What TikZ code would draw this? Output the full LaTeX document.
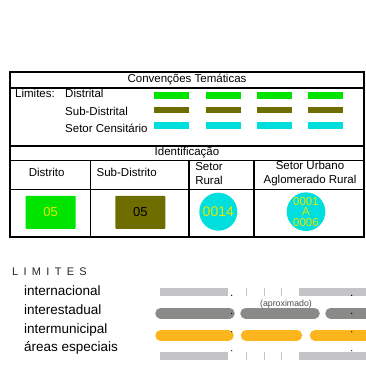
\documentclass[tikz,border=0pt]{standalone}
\usepackage{fontspec}
\setmainfont{Liberation Sans}
\usetikzlibrary{positioning}
\definecolor{distgreen}{HTML}{00E400}
\definecolor{subolive}{HTML}{6E6E00}
\definecolor{setorcyan}{HTML}{00DEDE}
\definecolor{numyellow}{HTML}{E8E800}
\definecolor{limlight}{HTML}{C4C4C8}
\definecolor{limdark}{HTML}{8A8B88}
\definecolor{limorange}{HTML}{FDB51D}
\begin{document}
\begin{tikzpicture}[x=1pt, y=-1pt,
    frame/.style={draw, line width=1.2pt},
    lbl/.style={font=\fontsize{11.5}{13.3}\selectfont, inner sep=0pt},
    big/.style={font=\fontsize{13.5}{15}\selectfont, inner sep=0pt},
    num/.style={font=\fontsize{13}{14}\selectfont, inner sep=0pt},
    tag/.style={minimum width=50pt, minimum height=33pt, inner sep=0pt, rounded corners=0.8pt},
    dashbar/.style={line width=6.5pt},
    limbar/.style={line width=7.5pt},
    roadbar/.style={line width=10.5pt, line cap=round},
    tick/.style={draw=limlight, line width=0.6pt},
    dot/.style={circle, fill=black, inner sep=0pt, minimum size=1.3pt}
]
\clip (0,0) rectangle (366,378);

% Convencoes Tematicas box
\draw[frame] (10,72) rectangle (364,146);
\draw[frame] (10,88) -- (364,88);
\node[lbl, anchor=base] (convtitle) at (187,82.7) {Convenções Temáticas};
\node[lbl, anchor=base west] (limites) at (15,97.7) {Limites:};
\node[lbl, anchor=base west] (distrital) at (65,97.7) {Distrital};
\node[lbl, anchor=base west] (subdistrital) at (65,115.3) {Sub-Distrital};
\node[lbl, anchor=base west] (censitario) at (65,132.7) {Setor Censitário};

% dashed limit samples
\foreach \x in {154,206,257,308} {
    \draw[dashbar, distgreen] (\x,95.7) -- ++(35,0);
    \draw[dashbar, subolive] (\x,110) -- ++(35,0);
    \draw[dashbar, setorcyan] (\x,125.4) -- ++(35,0);
}

% Identificacao box
\draw[frame] (10,146) rectangle (364,237);
\draw[frame] (10,160.7) -- (364,160.7);
\draw[frame] (10,189.3) -- (364,189.3);
\foreach \x in {90.7,189,254} {
    \draw[frame] (\x,160.7) -- (\x,237);
}
\node[lbl, anchor=base] (ident) at (187,155.7) {Identificação};
\node[lbl, anchor=base] (hdistrito) at (46.7,176.7) {Distrito};
\node[lbl, anchor=base] (hsub) at (126.7,176.7) {Sub-Distrito};
\node[lbl, align=center] (hrural) at (209,173.5) {Setor\\Rural};
\node[lbl, align=center] (hurbano) at (310,173.5) {Setor Urbano\\Aglomerado Rural};

% identification symbols
\node[tag, fill=distgreen, text=numyellow, num] (distrito) at (50.7,212.3) {05};
\node[tag, fill=subolive, text=black, num] (subdistrito) at (140.3,212.3) {05};
\node[circle, fill=setorcyan, minimum size=38pt, inner sep=0pt, text=numyellow,
    font=\fontsize{14}{15}\selectfont] (rural) at (218.3,211.7) {0014};
\node[circle, fill=setorcyan, minimum size=37pt, inner sep=0pt, text=numyellow, align=center,
    font=\fontsize{11.5}{10.5}\selectfont] (urbano) at (306,211.7) {0001\\A\\0006};

% LIMITES legend
\node[anchor=base west, inner sep=0pt, font=\fontsize{11}{13}\selectfont, text=black!85] (limtitle) at (12,275)
    {L\kern5.3pt I\kern5.3pt M\kern5.3pt I\kern5.3pt T\kern5.3pt E\kern5.3pt S};
\node[big, anchor=base west] (internacional) at (24,295.7) {internacional};
\node[big, anchor=base west] (interestadual) at (24,314.3) {interestadual};
\node[big, anchor=base west] (intermunicipal) at (24,333.3) {intermunicipal};
\node[big, anchor=base west] (especiais) at (24,351.7) {áreas especiais};

% internacional and areas especiais
\foreach \y in {292.2,356.2} {
    \draw[limbar, limlight] (160,\y) -- (228.3,\y);
    \draw[limbar, limlight] (299.3,\y) -- (370,\y);
    \foreach \x in {246,264.3,281.7} {
        \draw[tick] (\x,\y-3.8) -- (\x,\y+3.8);
    }
}
% interestadual
\draw[roadbar, limdark] (160.5,313.3) -- (229.5,313.3);
\draw[roadbar, limdark] (245.5,313.3) -- (314.5,313.3);
\draw[roadbar, limdark] (330.5,313.3) -- (380,313.3);
\node[inner sep=0pt, font=\fontsize{8.8}{10}\selectfont, text=black!70] (aprox) at (286,304) {(aproximado)};
% intermunicipal
\draw[roadbar, limorange] (160.5,335.5) -- (228.5,335.5);
\draw[roadbar, limorange] (246,335.5) -- (297,335.5);
\draw[roadbar, limorange] (315,335.5) -- (380,335.5);

% small marks
\foreach \x in {231.7,351.7} {
    \node[dot] at (\x,295.3) {};
    \node[dot] at (\x,313.3) {};
    \node[dot] at (\x,331.7) {};
    \node[dot] at (\x,350.7) {};
}
\end{tikzpicture}
\end{document}
